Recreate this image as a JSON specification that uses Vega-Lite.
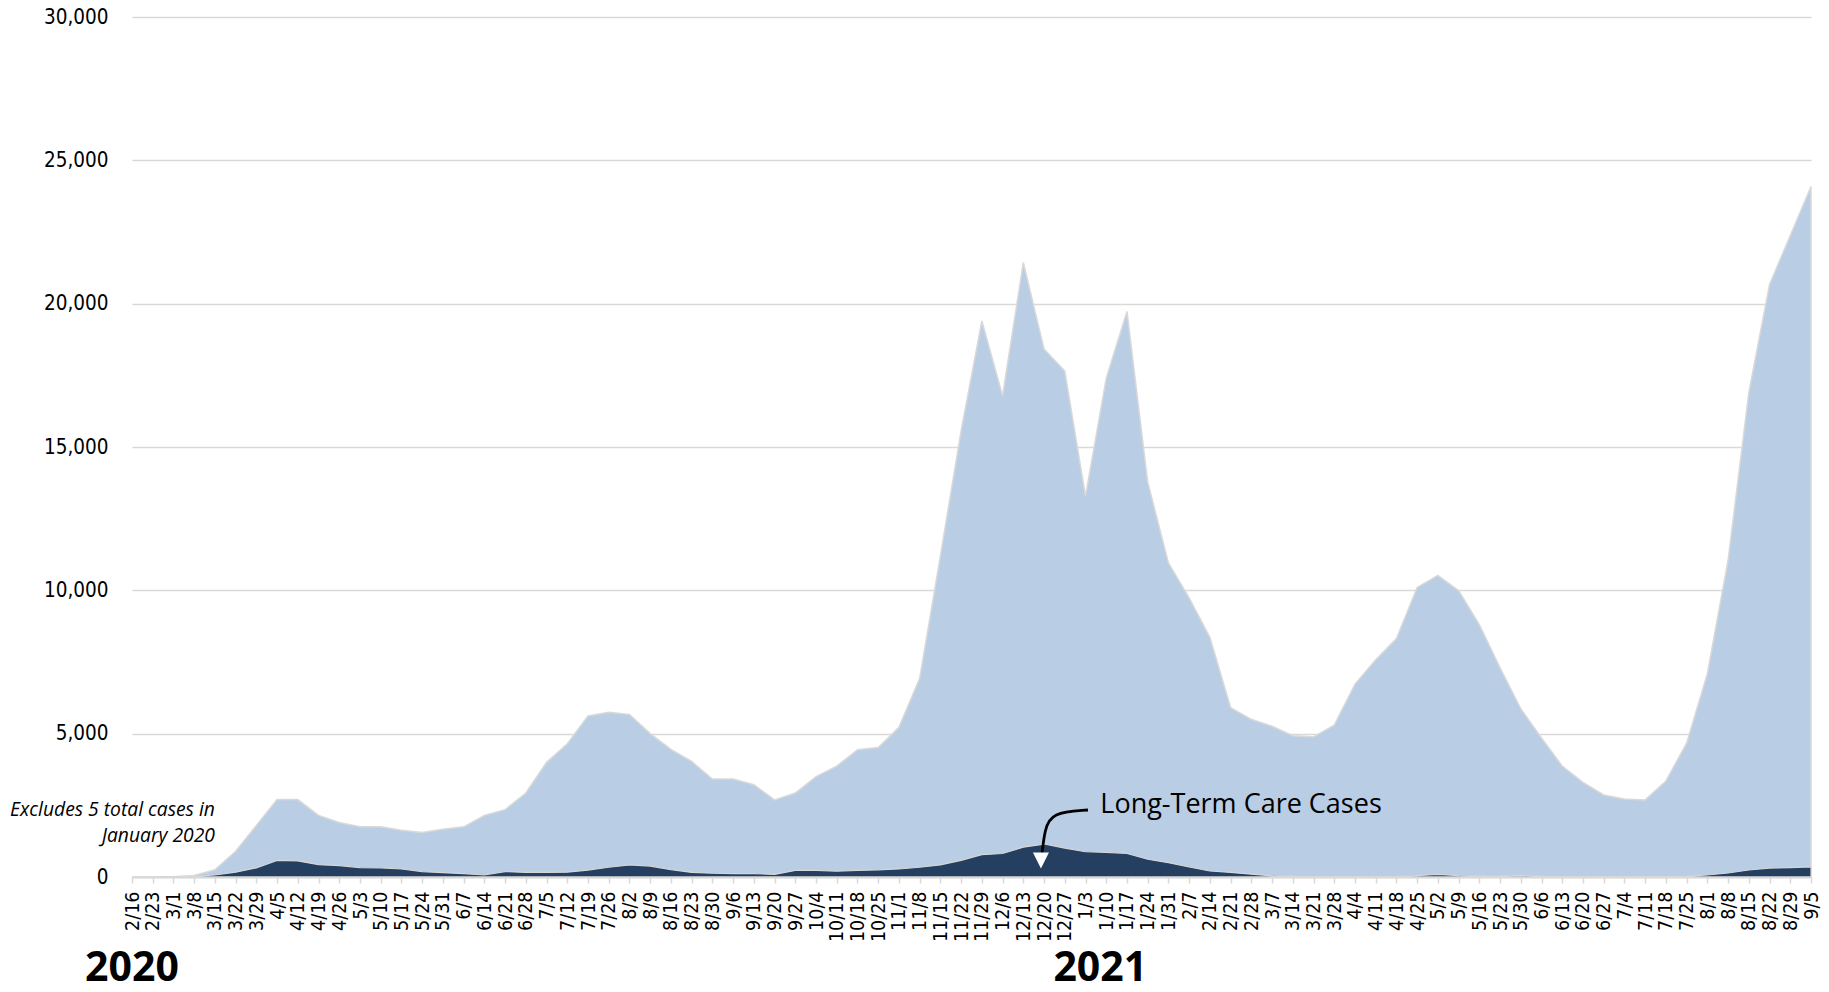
{
  "$schema": "https://vega.github.io/schema/vega-lite/v6.json",
  "width": 1679,
  "height": 860,
  "autosize": "none",
  "padding": {"left": 132, "top": 17, "right": 18, "bottom": 115},
  "background": "white",
  "datasets": {
    "cases": [
      {"week": "2020-02-16", "total": 0, "ltc": 0},
      {"week": "2020-02-23", "total": 0, "ltc": 0},
      {"week": "2020-03-01", "total": 10, "ltc": 5},
      {"week": "2020-03-08", "total": 50, "ltc": 20},
      {"week": "2020-03-15", "total": 250, "ltc": 70},
      {"week": "2020-03-22", "total": 900, "ltc": 170},
      {"week": "2020-03-29", "total": 1800, "ltc": 320},
      {"week": "2020-04-05", "total": 2700, "ltc": 580},
      {"week": "2020-04-12", "total": 2700, "ltc": 560},
      {"week": "2020-04-19", "total": 2150, "ltc": 430},
      {"week": "2020-04-26", "total": 1900, "ltc": 400},
      {"week": "2020-05-03", "total": 1750, "ltc": 330},
      {"week": "2020-05-10", "total": 1750, "ltc": 320},
      {"week": "2020-05-17", "total": 1630, "ltc": 280},
      {"week": "2020-05-24", "total": 1550, "ltc": 190},
      {"week": "2020-05-31", "total": 1670, "ltc": 150},
      {"week": "2020-06-07", "total": 1750, "ltc": 120},
      {"week": "2020-06-14", "total": 2150, "ltc": 70},
      {"week": "2020-06-21", "total": 2350, "ltc": 190},
      {"week": "2020-06-28", "total": 2930, "ltc": 160},
      {"week": "2020-07-05", "total": 4000, "ltc": 160},
      {"week": "2020-07-12", "total": 4650, "ltc": 170},
      {"week": "2020-07-19", "total": 5620, "ltc": 240},
      {"week": "2020-07-26", "total": 5750, "ltc": 340},
      {"week": "2020-08-02", "total": 5670, "ltc": 420},
      {"week": "2020-08-09", "total": 5000, "ltc": 380},
      {"week": "2020-08-16", "total": 4450, "ltc": 260},
      {"week": "2020-08-23", "total": 4030, "ltc": 160},
      {"week": "2020-08-30", "total": 3420, "ltc": 130},
      {"week": "2020-09-06", "total": 3420, "ltc": 120},
      {"week": "2020-09-13", "total": 3220, "ltc": 120},
      {"week": "2020-09-20", "total": 2690, "ltc": 90},
      {"week": "2020-09-27", "total": 2930, "ltc": 230},
      {"week": "2020-10-04", "total": 3500, "ltc": 230},
      {"week": "2020-10-11", "total": 3870, "ltc": 200},
      {"week": "2020-10-18", "total": 4440, "ltc": 230},
      {"week": "2020-10-25", "total": 4520, "ltc": 250},
      {"week": "2020-11-01", "total": 5220, "ltc": 280},
      {"week": "2020-11-08", "total": 6930, "ltc": 340},
      {"week": "2020-11-15", "total": 11200, "ltc": 420},
      {"week": "2020-11-22", "total": 15570, "ltc": 580},
      {"week": "2020-11-29", "total": 19400, "ltc": 780},
      {"week": "2020-12-06", "total": 16790, "ltc": 820},
      {"week": "2020-12-13", "total": 21440, "ltc": 1040},
      {"week": "2020-12-20", "total": 18420, "ltc": 1150},
      {"week": "2020-12-27", "total": 17650, "ltc": 1010},
      {"week": "2021-01-03", "total": 13290, "ltc": 880},
      {"week": "2021-01-10", "total": 17400, "ltc": 860},
      {"week": "2021-01-17", "total": 19730, "ltc": 820},
      {"week": "2021-01-24", "total": 13780, "ltc": 620},
      {"week": "2021-01-31", "total": 10960, "ltc": 500},
      {"week": "2021-02-07", "total": 9740, "ltc": 350},
      {"week": "2021-02-14", "total": 8360, "ltc": 210},
      {"week": "2021-02-21", "total": 5910, "ltc": 160},
      {"week": "2021-02-28", "total": 5500, "ltc": 100},
      {"week": "2021-03-07", "total": 5260, "ltc": 40},
      {"week": "2021-03-14", "total": 4930, "ltc": 20},
      {"week": "2021-03-21", "total": 4890, "ltc": 15},
      {"week": "2021-03-28", "total": 5300, "ltc": 15},
      {"week": "2021-04-04", "total": 6730, "ltc": 15},
      {"week": "2021-04-11", "total": 7580, "ltc": 15},
      {"week": "2021-04-18", "total": 8320, "ltc": 20},
      {"week": "2021-04-25", "total": 10100, "ltc": 50},
      {"week": "2021-05-02", "total": 10520, "ltc": 90},
      {"week": "2021-05-09", "total": 9990, "ltc": 50},
      {"week": "2021-05-16", "total": 8800, "ltc": 30},
      {"week": "2021-05-23", "total": 7300, "ltc": 30},
      {"week": "2021-05-30", "total": 5870, "ltc": 60},
      {"week": "2021-06-06", "total": 4850, "ltc": 25},
      {"week": "2021-06-13", "total": 3870, "ltc": 10},
      {"week": "2021-06-20", "total": 3300, "ltc": 10},
      {"week": "2021-06-27", "total": 2860, "ltc": 10},
      {"week": "2021-07-04", "total": 2720, "ltc": 10},
      {"week": "2021-07-11", "total": 2690, "ltc": 10},
      {"week": "2021-07-18", "total": 3350, "ltc": 10},
      {"week": "2021-07-25", "total": 4670, "ltc": 20},
      {"week": "2021-08-01", "total": 7090, "ltc": 70},
      {"week": "2021-08-08", "total": 11050, "ltc": 140},
      {"week": "2021-08-15", "total": 16900, "ltc": 245},
      {"week": "2021-08-22", "total": 20670, "ltc": 310},
      {"week": "2021-08-29", "total": 22380, "ltc": 330},
      {"week": "2021-09-05", "total": 24090, "ltc": 350}
    ],
    "arrow": [
      {"week": "2021-01-03T20:00:00Z", "v": 2337},
      {"week": "2020-12-22T12:00:00Z", "v": 2250},
      {"week": "2020-12-20T06:00:00Z", "v": 1650},
      {"week": "2020-12-19T08:00:00Z", "v": 837}
    ],
    "notes": [
      {"week": "2021-01-08T00:00:00Z", "v": 2232, "note": "Long-Term Care Cases"}
    ],
    "excl": [
      {"week": "2020-03-15T00:00:00Z", "v": 2128, "note": "Excludes 5 total cases in"},
      {"week": "2020-03-15T00:00:00Z", "v": 1221, "note": "January 2020"}
    ],
    "years": [
      {"week": "2020-02-16T00:00:00Z", "v": -3628, "note": "2020"},
      {"week": "2021-01-08T00:00:00Z", "v": -3628, "note": "2021"}
    ],
    "head": [
      {"week": "2020-12-18T23:00:00Z", "v": 575}
    ]
  },
  "encoding": {
    "x": {
      "field": "week",
      "type": "temporal",
      "title": null,
      "scale": {
        "type": "utc",
        "nice": false,
        "domain": [
          {"year": 2020, "month": 2, "date": 16, "utc": true},
          {"year": 2021, "month": 9, "date": 5, "utc": true}
        ]
      },
      "axis": {
        "format": "%-m/%-d",
        "tickCount": {"interval": "week", "step": 1},
        "labelAngle": 270,
        "labelOverlap": false,
        "labelFlush": false,
        "labelFont": "'DejaVu Sans Condensed', 'Open Sans'",
        "labelFontSize": 19.5,
        "labelColor": "#000000",
        "labelPadding": 8,
        "tickSize": 6,
        "tickColor": "#d9d9d9",
        "tickWidth": 1.5,
        "domainColor": "#d9d9d9",
        "domainWidth": 2,
        "grid": false,
        "zindex": 1
      }
    },
    "y": {
      "type": "quantitative",
      "title": null,
      "scale": {"domain": [0, 30000], "nice": false},
      "axis": {
        "values": [0, 5000, 10000, 15000, 20000, 25000, 30000],
        "labelExpr": "format(datum.value, ',')",
        "ticks": false,
        "domain": false,
        "labelFont": "'DejaVu Sans Condensed', 'Open Sans'",
        "labelFontSize": 20.5,
        "labelColor": "#000000",
        "labelPadding": 24,
        "gridColor": "#d9d9d9",
        "gridWidth": 1.5
      }
    }
  },
  "layer": [
    {
      "data": {"name": "cases"},
      "mark": {"type": "area", "color": "#b9cde5", "stroke": "#d9d9d9", "strokeWidth": 1.5},
      "encoding": {"y": {"field": "total", "type": "quantitative"}}
    },
    {
      "data": {"name": "cases"},
      "mark": {"type": "area", "color": "#243f60", "stroke": "#d6d6d6", "strokeWidth": 1.2},
      "encoding": {"y": {"field": "ltc", "type": "quantitative"}}
    },
    {
      "data": {"name": "arrow"},
      "mark": {"type": "line", "interpolate": "basis", "color": "#000000", "strokeWidth": 2.8},
      "encoding": {"y": {"field": "v", "type": "quantitative"}}
    },
    {
      "data": {"name": "head"},
      "mark": {"type": "point", "shape": "M-1,-1L1,-1L0,1Z", "filled": true, "color": "#ffffff", "opacity": 1, "size": 256},
      "encoding": {"y": {"field": "v", "type": "quantitative"}}
    },
    {
      "data": {"name": "notes"},
      "mark": {"type": "text", "font": "Open Sans", "fontSize": 27, "align": "left", "baseline": "alphabetic", "color": "#000000"},
      "encoding": {
        "y": {"field": "v", "type": "quantitative"},
        "text": {"field": "note"}
      }
    },
    {
      "data": {"name": "excl"},
      "mark": {"type": "text", "font": "Open Sans", "fontStyle": "italic", "fontSize": 19.3, "align": "right", "baseline": "alphabetic", "color": "#000000"},
      "encoding": {
        "y": {"field": "v", "type": "quantitative"},
        "text": {"field": "note"}
      }
    },
    {
      "data": {"name": "years"},
      "mark": {"type": "text", "font": "Open Sans", "fontWeight": "bold", "fontSize": 41, "align": "center", "baseline": "alphabetic", "color": "#000000"},
      "encoding": {
        "y": {"field": "v", "type": "quantitative"},
        "text": {"field": "note"}
      }
    }
  ],
  "config": {"view": {"stroke": null}}
}
